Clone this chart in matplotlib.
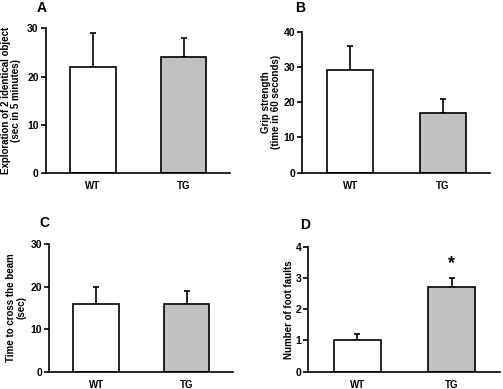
import matplotlib.pyplot as plt

plt.rcParams['font.family'] = ['Liberation Sans', 'DejaVu Sans']
plt.rcParams['font.weight'] = 'bold'

groups = ['WT', 'TG']
bar_colors = ['white', '#c0c0c0']

# panel data: means and upper error
a_mean = [22, 24]
a_err = [7, 4]
b_mean = [29, 17]
b_err = [7, 4]
c_mean = [16, 16]
c_err = [4, 3]
d_mean = [1.0, 2.7]
d_err = [0.2, 0.3]

W, H = 503, 389
fig = plt.figure(figsize=(W / 100, H / 100), dpi=100)


def px_axes(x0, y_top, x1, y_bot):
    return fig.add_axes([x0 / W, 1 - y_bot / H, (x1 - x0) / W, (y_bot - y_top) / H])


def draw_panel(ax, means, errs, ymax, step, ylabel, label_x):
    pos = [1, 2]
    ax.bar(pos, means, width=0.5, color=bar_colors, edgecolor='black', linewidth=1.2, zorder=2)
    ax.errorbar(pos, means, yerr=[[0, 0], errs], fmt='none', ecolor='black',
                elinewidth=1.2, capsize=2, capthick=1.2, zorder=1)
    ax.set_xlim(0.48, 2.51)
    ax.set_ylim(0, ymax)
    ax.set_yticks([step * i for i in range(int(round(ymax / step)) + 1)])
    ax.set_xticks(pos)
    ax.set_xticklabels(groups, fontsize=7, fontweight='bold')
    ax.tick_params(axis='x', length=0, pad=6)
    ax.tick_params(axis='y', length=3.5, width=1.2, labelsize=7.5, pad=1.5)
    for lab in ax.get_yticklabels():
        lab.set_fontweight('bold')
    for s in ['top', 'right']:
        ax.spines[s].set_visible(False)
    for s in ['left', 'bottom']:
        ax.spines[s].set_linewidth(1.2)
    ax.set_ylabel(ylabel, fontsize=7, fontweight='bold', linespacing=1.1, va='center')
    ax.yaxis.set_label_coords(label_x, 0.5)


axA = px_axes(45.7, 28.3, 230, 173)
draw_panel(axA, a_mean, a_err, 30, 10, 'Exploration of 2 identical object\n(sec in 5 minutes)', -0.188)

axB = px_axes(302.3, 31.7, 490, 172.7)
draw_panel(axB, b_mean, b_err, 40, 10, 'Grip strength\n(time in 60 seconds)', -0.167)

axC = px_axes(49, 244, 233, 371.7)
draw_panel(axC, c_mean, c_err, 30, 10, 'Time to cross the beam\n(sec)', -0.179)

axD = px_axes(308.3, 246.7, 500, 371.7)
draw_panel(axD, d_mean, d_err, 4, 1, 'Number of foot faults', -0.099)
axD.text(2, 3.45, '*', ha='center', va='center', fontsize=13, fontweight='bold')

for lbl, x, y in [('A', 42, 8), ('B', 300, 8), ('C', 44, 223), ('D', 305, 225)]:
    fig.text(x / W, 1 - y / H, lbl, ha='center', va='center', fontsize=10, fontweight='bold')

fig.savefig('out.png', dpi=100)
